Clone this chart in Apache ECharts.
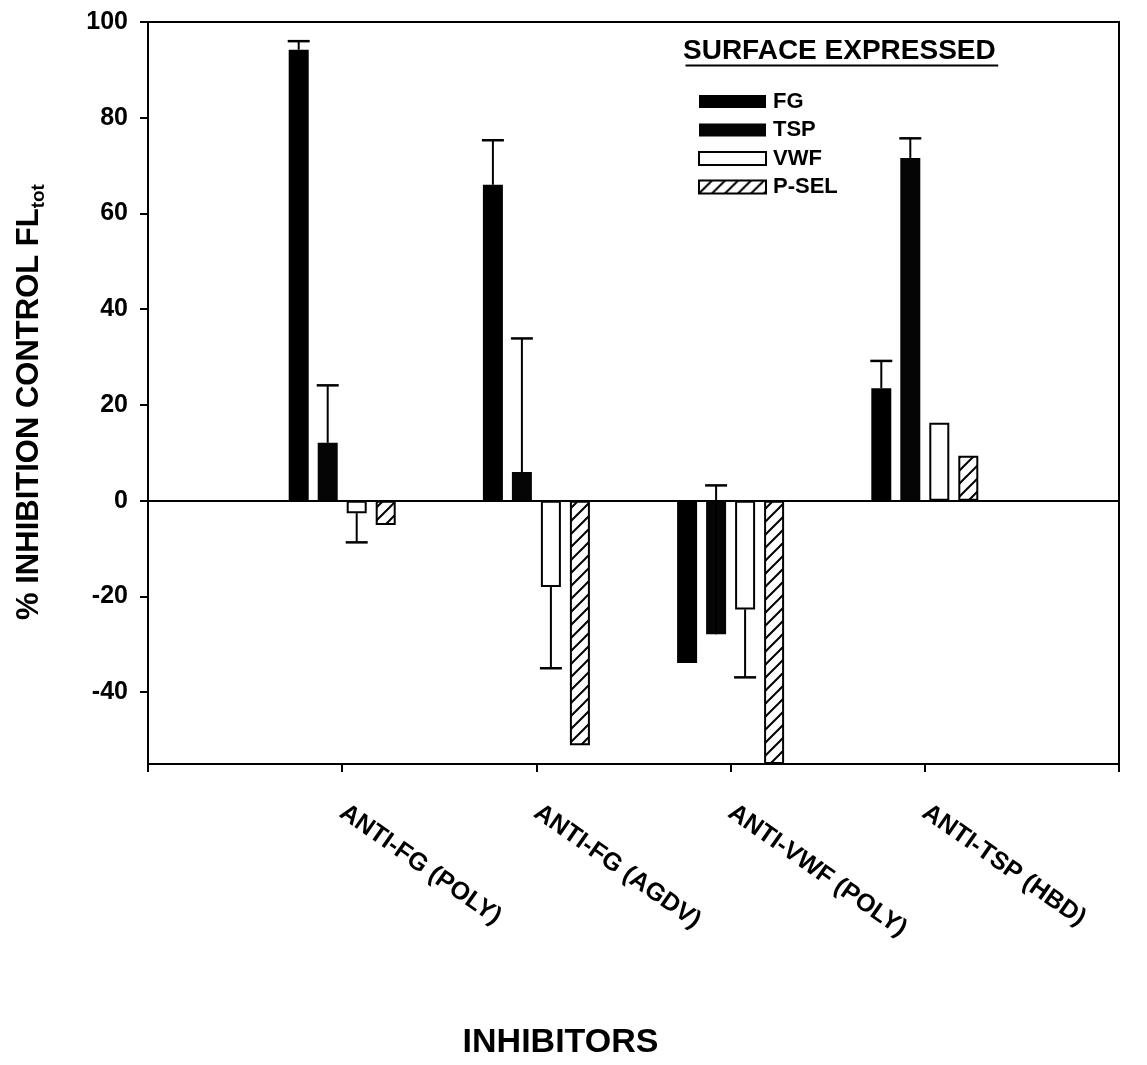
<!DOCTYPE html>
<html>
<head>
<meta charset="utf-8">
<script src="https://cdn.jsdelivr.net/npm/echarts@6/dist/echarts.min.js"></script>
<style>
  html, body { margin: 0; padding: 0; background: #fff; }
  #chart { width: 1147px; height: 1065px; }
</style>
</head>
<body>
<div id="chart"></div>
<script>
// Inhibitor groups on the x axis
const categories = ['ANTI-FG (POLY)', 'ANTI-FG (AGDV)', 'ANTI-VWF (POLY)', 'ANTI-TSP (HBD)'];

// % inhibition of control FLtot for each surface-expressed protein
const fgValues   = [94.2, 66.0, -33.9, 23.5];
const tspValues  = [12.1, 6.0, -27.9, 71.6];
const vwfValues  = [-2.6, -18.0, -22.7, 16.3];
const pselValues = [-5.1, -51.1, -55.0, 9.4];

// Error bar lengths (signed: drawn from the bar end in that direction)
const fgErr   = [1.8, 9.3, null, 5.7];
const tspErr  = [12.0, 27.9, 31.1, 4.1];
const vwfErr  = [-6.1, -17.0, -14.2, null];
const pselErr = [null, null, null, null];

const seriesNames = ['FG', 'TSP', 'VWF', 'P-SEL'];
const yTicks = { min: -55, max: 100, step: 20 };

const FONT = '"Liberation Sans", Arial, Helvetica, sans-serif';
const BAR_W = 20;
const BAR_GAP = 9;

// diagonal hatch fill for P-SEL
function hatchPattern() {
  const s = 13;
  const c = document.createElement('canvas');
  c.width = s; c.height = s;
  const g = c.getContext('2d');
  g.fillStyle = '#fff';
  g.fillRect(0, 0, s, s);
  g.strokeStyle = '#000';
  g.lineWidth = 2;
  g.beginPath();
  g.moveTo(-2, s + 2); g.lineTo(s + 2, -2);
  g.moveTo(-s / 2 - 2, s / 2 + 2); g.lineTo(s / 2 + 2, -s / 2 - 2);
  g.moveTo(s / 2 - 2, s * 1.5 + 2); g.lineTo(s * 1.5 + 2, s / 2 - 2);
  g.stroke();
  return c;
}

const axisCats = [''].concat(categories, ['']);
const toPairs = arr => arr.map((v, i) => [i + 1, v]);

const allValues = [fgValues, tspValues, vwfValues, pselValues];
const allErr = [fgErr, tspErr, vwfErr, pselErr];
const errData = [];
allErr.forEach((errs, s) => {
  errs.forEach((e, i) => {
    if (e != null) errData.push([i + 1, allValues[s][i], allValues[s][i] + e, s]);
  });
});

const itemStyles = [
  { color: '#000' },
  { color: '#050505' },
  { color: '#fff', borderColor: '#000', borderWidth: 2 },
  { color: { image: hatchPattern(), repeat: 'repeat' }, borderColor: '#000', borderWidth: 2 }
];

const barSeries = seriesNames.map((name, s) => ({
  name: name,
  type: 'bar',
  data: toPairs(allValues[s]),
  barWidth: BAR_W,
  barGap: (BAR_GAP / BAR_W * 100) + '%',
  itemStyle: itemStyles[s],
  emphasis: { disabled: true },
  z: 2
}));

// zero reference line across the plot
barSeries[0].markLine = {
  silent: true,
  symbol: 'none',
  label: { show: false },
  lineStyle: { color: '#000', width: 2, type: 'solid' },
  data: [{ yAxis: 0 }]
};

const errSeries = {
  type: 'custom',
  name: 'err',
  data: errData,
  encode: { x: 0, y: [1, 2] },
  z: 5,
  silent: true,
  renderItem: function (params, api) {
    const s = api.value(3);
    const pitch = BAR_W + BAR_GAP;
    const off = (s - 1.5) * pitch;
    const p0 = api.coord([api.value(0), api.value(1)]);
    const p1 = api.coord([api.value(0), api.value(2)]);
    const x = p0[0] + off;
    const cap = 11;
    return {
      type: 'group',
      children: [
        { type: 'line', shape: { x1: x, y1: p0[1], x2: x, y2: p1[1] }, style: { stroke: '#000', lineWidth: 2 } },
        { type: 'line', shape: { x1: x - cap, y1: p1[1], x2: x + cap, y2: p1[1] }, style: { stroke: '#000', lineWidth: 2.5 } }
      ]
    };
  }
};

// width of the legend heading, for its underline
const legendTitle = 'SURFACE EXPRESSED';
const titleFont = 'bold 28px ' + FONT;
const meas = document.createElement('canvas').getContext('2d');
meas.font = titleFont;
const titleW = meas.measureText(legendTitle).width;

const chart = echarts.init(document.getElementById('chart'), null, { renderer: 'canvas' });
chart.setOption({
  backgroundColor: '#fff',
  animation: false,
  textStyle: { fontFamily: FONT, color: '#000' },
  grid: {
    left: 148, right: 28, top: 22, bottom: 298,
    show: true, borderColor: '#000', borderWidth: 2, backgroundColor: 'transparent'
  },
  legend: {
    data: seriesNames,
    orient: 'vertical',
    left: 693, top: 85.5,
    icon: 'rect',
    itemWidth: 67, itemHeight: 13,
    itemGap: 6.5,
    selectedMode: false,
    textStyle: { fontFamily: FONT, fontSize: 22, fontWeight: 'bold', color: '#000', padding: [0, 0, 0, 2] }
  },
  graphic: [
    {
      type: 'text', left: 683, top: 37,
      style: { text: legendTitle, font: titleFont, fill: '#000' }
    },
    {
      type: 'line', left: 683, top: 63,
      shape: { x1: 0, y1: 0, x2: titleW, y2: 0 },
      style: { stroke: '#000', lineWidth: 2 }
    }
  ],
  xAxis: {
    type: 'category',
    data: axisCats,
    boundaryGap: false,
    name: 'INHIBITORS',
    nameLocation: 'middle',
    nameGap: 262,
    nameTextStyle: { fontFamily: FONT, fontSize: 34, fontWeight: 'bold', color: '#000', padding: [0, 146, 0, 0] },
    axisLine: { onZero: false, lineStyle: { color: '#000', width: 2 } },
    axisTick: { show: true, interval: 0, length: 8, lineStyle: { color: '#000', width: 2 } },
    axisLabel: {
      interval: 0, rotate: -35, margin: 46,
      fontFamily: FONT, fontSize: 25, fontWeight: 'bold', color: '#000'
    },
    splitLine: { show: false }
  },
  yAxis: {
    type: 'value',
    min: yTicks.min, max: yTicks.max,
    minInterval: yTicks.step, maxInterval: yTicks.step,
    name: '{m|% INHIBITION CONTROL FL}{s|tot}',
    nameLocation: 'middle',
    nameGap: 100,
    nameTextStyle: {
      padding: [0, 18, 0, 0],
      rich: {
        m: { fontFamily: FONT, fontSize: 31, fontWeight: 'bold', color: '#000', lineHeight: 38, verticalAlign: 'middle' },
        s: { fontFamily: FONT, fontSize: 19, fontWeight: 'bold', color: '#000', lineHeight: 38, verticalAlign: 'bottom' }
      }
    },
    axisLine: { show: true, lineStyle: { color: '#000', width: 2 } },
    axisTick: { show: true, length: 8, lineStyle: { color: '#000', width: 2 } },
    axisLabel: {
      showMinLabel: false, margin: 20,
      fontFamily: FONT, fontSize: 25, fontWeight: 'bold', color: '#000'
    },
    splitLine: { show: false }
  },
  series: barSeries.concat([errSeries])
});
</script>
</body>
</html>
